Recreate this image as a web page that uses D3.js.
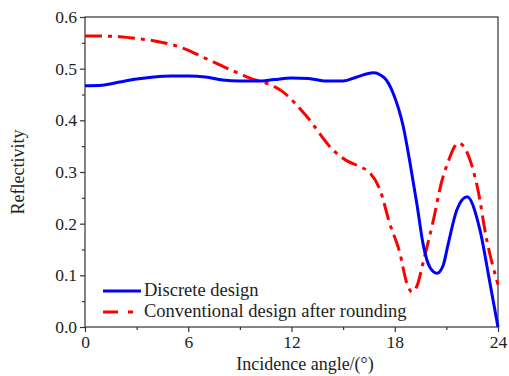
<!DOCTYPE html>
<html><head><meta charset="utf-8">
<script src="https://cdn.jsdelivr.net/npm/d3@7"></script>
<style>html,body{margin:0;padding:0;background:#fff;}svg{display:block;}
text{font-family:'Liberation Serif','Times New Roman',serif !important;}</style>
</head><body>
<script>
const xTicks = [0, 6, 12, 18, 24];
const yTicks = [0.0, 0.1, 0.2, 0.3, 0.4, 0.5, 0.6];
const seriesNames = ["Discrete design", "Conventional design after rounding"];
const discreteAngle = [0,1,2,3,4,5,6,7,8,9,10,11,12,13,14,15,15.8,16.75,17.4,17.9,18.5,18.9,19.3,19.65,20.05,20.45,20.8,21.1,21.6,22.2,22.95,23.5,24];
const discreteValue = [0.467,0.468,0.474,0.480,0.484,0.486,0.486,0.484,0.478,0.476,0.476,0.479,0.482,0.481,0.476,0.476,0.484,0.492,0.482,0.453,0.387,0.315,0.235,0.160,0.115,0.104,0.118,0.160,0.226,0.252,0.188,0.091,0.0];
const convAngle = [0,1,2,2.6,3.8,5.5,7.45,9.0,9.9,10.35,11.5,12.9,14.4,15.2,16.0,16.5,17.15,17.7,18.3,18.7,19.0,19.3,19.65,20.2,20.75,21.05,21.7,22.0,22.3,22.8,23.35,24];
const convValue = [0.563,0.563,0.562,0.560,0.555,0.542,0.513,0.490,0.478,0.474,0.455,0.407,0.343,0.322,0.310,0.300,0.265,0.201,0.143,0.085,0.068,0.080,0.125,0.200,0.284,0.315,0.356,0.350,0.330,0.271,0.168,0.082];

const W = 509, H = 376;
const L = 85, R = 498, T = 17, B = 327;
const font = "'Liberation Serif','Times New Roman',serif";
const svg = d3.select("body").append("svg").attr("width", W).attr("height", H);
const x = d3.scaleLinear().domain([0, 24]).range([L, R]);
const y = d3.scaleLinear().domain([0, 0.6]).range([B, T]);

svg.append("rect").attr("x", L).attr("y", T).attr("width", R - L).attr("height", B - T)
  .attr("fill", "none").attr("stroke", "#333").attr("stroke-width", 1.2);

const gx = svg.append("g").attr("transform", `translate(0,${B})`);
gx.append("g").call(d3.axisBottom(x).tickValues([3, 9, 15, 21]).tickSize(3).tickFormat(""));
gx.append("g").call(d3.axisBottom(x).tickValues(xTicks).tickSize(5).tickPadding(4).tickFormat(d3.format("d")));
const gy = svg.append("g").attr("transform", `translate(${L},0)`);
gy.append("g").call(d3.axisLeft(y).tickValues([0.05,0.15,0.25,0.35,0.45,0.55]).tickSize(3).tickFormat(""));
gy.append("g").call(d3.axisLeft(y).tickValues(yTicks).tickSize(5).tickPadding(3).tickFormat(d3.format(".1f")));
svg.selectAll(".domain").remove();
svg.selectAll("g").attr("font-family", font);
svg.selectAll(".tick line").attr("stroke", "#333").attr("stroke-width", 1.2);
svg.selectAll(".tick text").attr("font-size", 17.5).attr("fill", "#222");

svg.append("text").attr("x", 305).attr("y", 370).attr("text-anchor", "middle")
  .attr("font-family", font).attr("font-size", 18).attr("fill", "#222").text("Incidence angle/(°)");
svg.append("text").attr("transform", `translate(24,172) rotate(-90)`).attr("text-anchor", "middle")
  .attr("font-family", font).attr("font-size", 18).attr("fill", "#222").text("Reflectivity");

const line = d3.line().x(d => x(d[0])).y(d => y(d[1])).curve(d3.curveMonotoneX);
svg.append("path").datum(convAngle.map((a, i) => [a, convValue[i]]))
  .attr("d", line).attr("fill", "none").attr("stroke", "#ff0000").attr("stroke-width", 3)
  .attr("stroke-dasharray", "17,6,4,6");
svg.append("path").datum(discreteAngle.map((a, i) => [a, discreteValue[i]]))
  .attr("d", line).attr("fill", "none").attr("stroke", "#0000ff").attr("stroke-width", 3);

const leg = [{c: "#0000ff", d: null, yy: 291}, {c: "#ff0000", d: "15,10,5,20", yy: 312}];
leg.forEach((l, i) => {
  svg.append("line").attr("x1", 103).attr("x2", 141).attr("y1", l.yy).attr("y2", l.yy)
    .attr("stroke", l.c).attr("stroke-width", 3).attr("stroke-dasharray", l.d);
  svg.append("text").attr("x", 144).attr("y", l.yy + 5).attr("font-family", font)
    .attr("font-size", 18.5).attr("fill", "#222").text(seriesNames[i]);
});
</script>
</body></html>
